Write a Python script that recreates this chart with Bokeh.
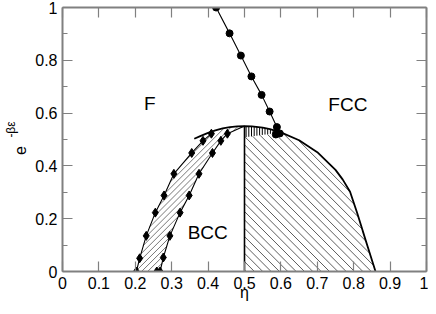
import numpy as np
from bokeh.plotting import figure
from bokeh.models import Range1d, LinearAxis, FixedTicker
from bokeh.core.properties import value
from bokeh.embed import file_html
from bokeh.resources import INLINE

# ---------------- data ----------------
x_ticks = [0, 0.1, 0.2, 0.3, 0.4, 0.5, 0.6, 0.7, 0.8, 0.9, 1.0]
x_tick_labels = ["0", "0.1", "0.2", "0.3", "0.4", "0.5", "0.6", "0.7", "0.8", "0.9", "1"]
y_ticks = [0, 0.2, 0.4, 0.6, 0.8, 1.0]
y_tick_labels = ["0", "0.2", "0.4", "0.6", "0.8", "1"]
y_minor_ticks = [0.1, 0.3, 0.5, 0.7, 0.9]

x_title = "η"
y_title_base = "e"
y_title_sup = "-βε"

# fluid / FCC boundary (circles)
ffcc_eta = [0.422, 0.459, 0.490, 0.519, 0.547, 0.569, 0.589, 0.597, 0.586]
ffcc_y = [1.000, 0.902, 0.818, 0.739, 0.669, 0.606, 0.547, 0.523, 0.519]

# BCC coexistence boundaries (diamonds)
bcc_left_eta = [0.203, 0.212, 0.230, 0.255, 0.279, 0.306, 0.355, 0.386, 0.409]
bcc_left_y = [0.0, 0.050, 0.135, 0.223, 0.288, 0.370, 0.449, 0.495, 0.522]
bcc_right_eta = [0.259, 0.268, 0.277, 0.295, 0.323, 0.348, 0.375, 0.412, 0.435, 0.453]
bcc_right_y = [0.0, 0.0, 0.053, 0.135, 0.223, 0.288, 0.370, 0.449, 0.495, 0.522]

# outer dome curve
dome_eta = [0.362, 0.38, 0.40, 0.42, 0.44, 0.46, 0.48, 0.50, 0.52, 0.55, 0.57, 0.60,
            0.65, 0.70, 0.75, 0.77, 0.79, 0.81, 0.825, 0.84, 0.86]
dome_y = [0.503, 0.514, 0.525, 0.535, 0.542, 0.547, 0.550, 0.551, 0.550, 0.545, 0.539, 0.527,
          0.497, 0.452, 0.385, 0.348, 0.302, 0.220, 0.153, 0.087, 0.0]

# vertical divider at eta = 0.5 and split line between hatch regions
divider_eta = [0.5, 0.5]
divider_y = [0.0, 0.551]
split_eta = [0.50, 0.60]
split_y = [0.508, 0.527]

# region labels
region_text = ["F", "FCC", "BCC"]
region_eta = [0.240, 0.784, 0.399]
region_y = [0.636, 0.633, 0.146]

FONT = "Liberation Sans"
FRAME = "#808080"
NBSP = "\u00a0"

W, H = 428, 306
BL, BR, BT, BB = 62, 2, 7, 35
FW, FH = W - BL - BR, H - BT - BB   # frame size in px (used for hatching geometry)

p = figure(width=W, height=H, x_range=Range1d(0, 1), y_range=Range1d(0, 1),
           x_axis_type=None, y_axis_type=None, output_backend="svg",
           toolbar_location=None, min_border_left=BL, min_border_right=BR,
           min_border_top=BT, min_border_bottom=BB)
p.outline_line_color = None
p.xgrid.visible = False
p.ygrid.visible = False


def make_axis(ticks, labels, minor, show_labels):
    ax = LinearAxis(ticker=FixedTicker(ticks=ticks, minor_ticks=minor))
    ax.major_tick_in = 10
    ax.major_tick_out = 0
    ax.minor_tick_in = 5
    ax.minor_tick_out = 0
    ax.axis_line_color = FRAME
    ax.axis_line_width = 2
    ax.major_tick_line_color = FRAME
    ax.major_tick_line_width = 1.2
    ax.minor_tick_line_color = FRAME if minor else None
    ax.minor_tick_line_width = 1.2
    if show_labels:
        ax.major_label_overrides = {t: l for t, l in zip(ticks, labels)}
        ax.major_label_text_font = FONT
        ax.major_label_text_font_size = "16px"
        ax.major_label_text_color = "black"
        ax.major_label_standoff = 5
    else:
        ax.major_label_overrides = {t: "" for t in ticks}
        ax.major_label_text_font_size = "0px"
        ax.major_label_standoff = 0
    return ax


def style_title(ax, text, size, standoff):
    ax.axis_label = text
    ax.axis_label_text_font = FONT
    ax.axis_label_text_font_size = size
    ax.axis_label_text_font_style = "normal"
    ax.axis_label_text_color = "black"
    ax.axis_label_standoff = standoff


xb = make_axis(x_ticks, x_tick_labels, [], True)
style_title(xb, x_title, "16px", -8)
p.add_layout(xb, "below")
p.add_layout(make_axis(x_ticks, x_tick_labels, [], False), "above")

yl = make_axis(y_ticks, y_tick_labels, y_minor_ticks, True)
style_title(yl, y_title_base + NBSP * 5, "16px", 3)
p.add_layout(yl, "left")

# second, bare left axis only carrying the superscript of the y title
ys = LinearAxis(ticker=FixedTicker(ticks=[]))
ys.axis_line_color = None
ys.major_tick_line_color = None
ys.minor_tick_line_color = None
ys.major_tick_in = 0
ys.major_tick_out = 0
ys.minor_tick_in = 0
ys.minor_tick_out = 0
ys.major_label_text_font_size = "0px"
ys.major_label_standoff = 0
style_title(ys, NBSP * 6 + y_title_sup, "12px", -8)
p.add_layout(ys, "left")

p.add_layout(make_axis(y_ticks, y_tick_labels, y_minor_ticks, False), "right")


def hatch(px, py, kind, spacing):
    """Hatch-line segments clipped to a polygon (computed in pixel space)."""
    X = np.asarray(px, float) * FW
    Y = np.asarray(py, float) * FH
    if kind == "/":
        a, b = 1 / np.sqrt(2), -1 / np.sqrt(2)
    elif kind == "\\":
        a, b = 1 / np.sqrt(2), 1 / np.sqrt(2)
    else:
        a, b = 1.0, 0.0
    t = a * X + b * Y
    s = -b * X + a * Y
    n = len(X)
    x0, y0, x1, y1 = [], [], [], []
    k0 = int(np.floor(t.min() / spacing)) + 1
    k1 = int(np.ceil(t.max() / spacing))
    for k in range(k0, k1):
        tk = k * spacing
        hits = []
        for i in range(n):
            j = (i + 1) % n
            ti, tj = t[i], t[j]
            if (ti <= tk < tj) or (tj <= tk < ti):
                f = (tk - ti) / (tj - ti)
                hits.append((s[i] + f * (s[j] - s[i]), X[i] + f * (X[j] - X[i]), Y[i] + f * (Y[j] - Y[i])))
        hits.sort()
        for m in range(0, len(hits) - 1, 2):
            x0.append(hits[m][1] / FW); y0.append(hits[m][2] / FH)
            x1.append(hits[m + 1][1] / FW); y1.append(hits[m + 1][2] / FH)
    return x0, y0, x1, y1


# ---- hatched regions ----
# BCC coexistence region
bx = list(bcc_left_eta) + [e for e in dome_eta if bcc_left_eta[-1] < e <= 0.5] + list(reversed(bcc_right_eta))
by = list(bcc_left_y) + [y for e, y in zip(dome_eta, dome_y) if bcc_left_eta[-1] < e <= 0.5] + list(reversed(bcc_right_y))
hx0, hy0, hx1, hy1 = hatch(bx, by, "/", 4.3)
p.segment(hx0, hy0, hx1, hy1, line_color="#555555", line_width=0.8)

# FCC region under the dome
fx = [divider_eta[0]] + split_eta + [e for e in dome_eta if e > split_eta[-1]]
fy = [divider_y[0]] + split_y + [y for e, y in zip(dome_eta, dome_y) if e > split_eta[-1]]
hx0, hy0, hx1, hy1 = hatch(fx, fy, "\\", 5.9)
p.segment(hx0, hy0, hx1, hy1, line_color="#333333", line_width=0.8)

# thin sliver with vertical hatching
sx = [e for e in dome_eta if split_eta[0] <= e <= split_eta[-1]] + [split_eta[0]]
sy = [y for e, y in zip(dome_eta, dome_y) if split_eta[0] <= e <= split_eta[-1]] + [split_y[0]]
hx0, hy0, hx1, hy1 = hatch(sx, sy, "|", 2.7)
p.segment(hx0, hy0, hx1, hy1, line_color="black", line_width=1.0)

# ---- lines ----
p.line(dome_eta, dome_y, line_color="black", line_width=1.8)
p.line(divider_eta, divider_y, line_color="black", line_width=1.6)

p.line(bcc_left_eta, bcc_left_y, line_color="black", line_width=1.1)
p.line(list(bcc_right_eta) + [divider_eta[0]], list(bcc_right_y) + [divider_y[1]],
       line_color="black", line_width=1.1)
p.scatter(bcc_left_eta, bcc_left_y, marker="diamond", size=9, color="black")
p.scatter(bcc_right_eta, bcc_right_y, marker="diamond", size=9, color="black")

p.line(ffcc_eta, ffcc_y, line_color="black", line_width=1.1)
p.scatter(ffcc_eta, ffcc_y, marker="circle", size=7, color="black")

# region labels
p.text(x=region_eta, y=region_y, text=region_text, text_font=value(FONT),
       text_font_size="19px", text_align="center", text_baseline="middle",
       text_color="black")

open("out.html", "w").write(file_html(p, INLINE))
